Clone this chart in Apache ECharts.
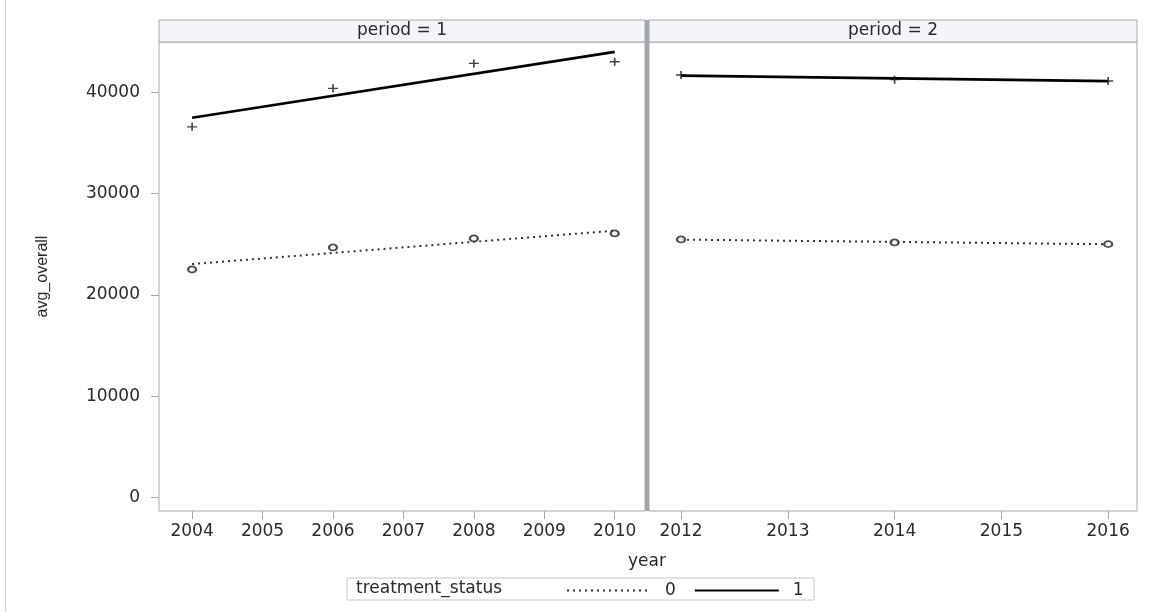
<!DOCTYPE html>
<html>
<head>
<meta charset="utf-8">
<script src="https://cdn.jsdelivr.net/npm/echarts@6/dist/echarts.min.js"></script>
<style>
html,body{margin:0;padding:0;background:#fff;}
#chart{width:1152px;height:612px;}
</style>
</head>
<body>
<div id="chart"></div>
<script>
// ---- data ----
const panelTitles = ['period = 1', 'period = 2'];
const yTicks = [0, 10000, 20000, 30000, 40000];
const xTicks1 = [2004, 2005, 2006, 2007, 2008, 2009, 2010];
const xTicks2 = [2012, 2013, 2014, 2015, 2016];

const years1 = [2004, 2006, 2008, 2010];
const treated1 = [36600, 40400, 42860, 43020];
const control1 = [22520, 24690, 25580, 26070];

const years2 = [2012, 2014, 2016];
const treated2 = [41710, 41250, 41120];
const control2 = [25480, 25190, 25020];

const fitYears1 = [2004, 2010];
const treatedFit1 = [37490, 44000];
const controlFit1 = [23050, 26350];
const fitYears2 = [2012, 2016];
const treatedFit2 = [41650, 41100];
const controlFit2 = [25470, 25010];

const legendTitle = 'treatment_status';
const groupNames = ['0', '1'];
const xName = 'year';
const yName = 'avg_overall';

// ---- helpers ----
const zip = (xs, ys) => xs.map((x, i) => [x, ys[i]]);
const FONT = 'DejaVu Sans';
const TXT = '#2a2a2a';
const FRAME = '#a4a8ad';
const plusPath = 'path://M5,0h2v5h5v2h-5v5h-2v-5h-5v-2h5z';

function xAxisDef(gi, min, max, ticks) {
  return {
    type: 'value', gridIndex: gi, min: min, max: max,
    axisLine: {show: false, onZero: false},
    splitLine: {show: false},
    axisTick: {show: true, length: 8, lineStyle: {color: FRAME}, customValues: ticks},
    axisLabel: {customValues: ticks, margin: 12, color: TXT, fontFamily: FONT, fontSize: 17,
      formatter: v => String(v)}
  };
}
function yAxisDef(gi, showLabels) {
  return {
    type: 'value', gridIndex: gi, min: -1320, max: 44970,
    axisLine: {show: false, onZero: false},
    splitLine: {show: false},
    axisTick: {show: showLabels, length: 8, lineStyle: {color: FRAME}, customValues: yTicks},
    axisLabel: {show: showLabels, customValues: yTicks, margin: 19, color: TXT, fontFamily: FONT, fontSize: 17,
      formatter: v => String(v)},
    name: showLabels ? yName : '',
    nameLocation: 'middle', nameGap: 108, nameRotate: 90,
    nameTextStyle: {color: TXT, fontFamily: 'Liberation Sans', fontSize: 16}
  };
}

const chart = echarts.init(document.getElementById('chart'));
const option = {
  animation: false,
  backgroundColor: '#fff',
  grid: [
    {left: 159, right: 507, top: 42, bottom: 101, show: true, borderColor: FRAME, borderWidth: 1},
    {left: 649, right: 15, top: 42, bottom: 101, show: true, borderColor: FRAME, borderWidth: 1}
  ],
  xAxis: [xAxisDef(0, 2003.53, 2010.43, xTicks1), xAxisDef(1, 2011.70, 2016.27, xTicks2)],
  yAxis: [yAxisDef(0, true), yAxisDef(1, false)],
  legend: {
    data: groupNames,
    left: 566, top: 582, padding: 0,
    itemWidth: 84, itemHeight: 14, itemGap: 18,
    itemStyle: {opacity: 0},
    textStyle: {color: TXT, fontFamily: FONT, fontSize: 17, padding: [0, 0, 0, 9]},
    selectedMode: false
  },
  series: [
    {name: groupNames[0], type: 'line', xAxisIndex: 0, yAxisIndex: 0, data: zip(fitYears1, controlFit1),
      symbol: 'none', lineStyle: {color: '#333', width: 2, type: [2, 4]}, itemStyle: {color: '#333'}},
    {name: groupNames[1], type: 'line', xAxisIndex: 0, yAxisIndex: 0, data: zip(fitYears1, treatedFit1),
      symbol: 'none', lineStyle: {color: '#000', width: 2.7, type: 'solid'}, itemStyle: {color: '#000'}},
    {name: groupNames[0], type: 'line', xAxisIndex: 1, yAxisIndex: 1, data: zip(fitYears2, controlFit2),
      symbol: 'none', lineStyle: {color: '#333', width: 2, type: [2, 4]}, itemStyle: {color: '#333'}},
    {name: groupNames[1], type: 'line', xAxisIndex: 1, yAxisIndex: 1, data: zip(fitYears2, treatedFit2),
      symbol: 'none', lineStyle: {color: '#000', width: 2.7, type: 'solid'}, itemStyle: {color: '#000'}},
    {name: 'obs0a', type: 'scatter', xAxisIndex: 0, yAxisIndex: 0, data: zip(years1, control1),
      symbol: 'emptyCircle', symbolSize: [8, 6], itemStyle: {color: '#222', borderColor: '#222', borderWidth: 1.3}, z: 3},
    {name: 'obs1a', type: 'scatter', xAxisIndex: 0, yAxisIndex: 0, data: zip(years1, treated1),
      symbol: plusPath, symbolSize: [10, 8], itemStyle: {color: '#111'}, z: 3},
    {name: 'obs0b', type: 'scatter', xAxisIndex: 1, yAxisIndex: 1, data: zip(years2, control2),
      symbol: 'emptyCircle', symbolSize: [8, 6], itemStyle: {color: '#222', borderColor: '#222', borderWidth: 1.3}, z: 3},
    {name: 'obs1b', type: 'scatter', xAxisIndex: 1, yAxisIndex: 1, data: zip(years2, treated2),
      symbol: plusPath, symbolSize: [10, 8], itemStyle: {color: '#111'}, z: 3}
  ],
  graphic: [
    {type: 'line', shape: {x1: 5.5, y1: 0, x2: 5.5, y2: 612}, style: {stroke: '#d0d0d0', lineWidth: 1}},
    {type: 'rect', shape: {x: 159, y: 20, width: 486, height: 22}, style: {fill: '#f3f5f9', stroke: FRAME, lineWidth: 1}},
    {type: 'rect', shape: {x: 649, y: 20, width: 488, height: 22}, style: {fill: '#f3f5f9', stroke: FRAME, lineWidth: 1}},
    {type: 'text', x: 402, y: 31, style: {text: panelTitles[0], fill: TXT, font: '17px "DejaVu Sans"', align: 'center', verticalAlign: 'middle'}},
    {type: 'text', x: 893, y: 31, style: {text: panelTitles[1], fill: TXT, font: '17px "DejaVu Sans"', align: 'center', verticalAlign: 'middle'}},
    {type: 'rect', shape: {x: 645, y: 20, width: 4, height: 491}, style: {fill: '#a2a6ab'}, z: 10},
    {type: 'text', x: 647, y: 562, style: {text: xName, fill: TXT, font: '17px "DejaVu Sans"', align: 'center', verticalAlign: 'middle'}},
    {type: 'rect', shape: {x: 347, y: 578, width: 467, height: 22}, style: {fill: 'none', stroke: '#c4c7cb', lineWidth: 1}},
    {type: 'text', x: 356, y: 589, style: {text: legendTitle, fill: TXT, font: '17px "DejaVu Sans"', align: 'left', verticalAlign: 'middle'}}
  ]
};
chart.setOption(option);
</script>
</body>
</html>
